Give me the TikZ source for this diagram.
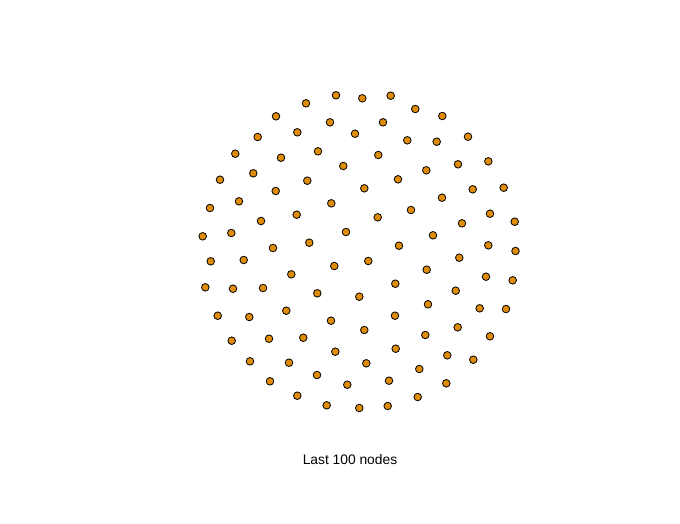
\documentclass[tikz,border=0pt]{standalone}
\usepackage{fontspec}
\setmainfont{Liberation Sans}
\usepackage{xcolor}
\usepackage{tikz}
\definecolor{naranja}{RGB}{224,140,8}
\tikzset{
  nodo/.style={circle,fill=naranja,draw=black,line width=0.8pt,minimum size=7.6pt,inner sep=0pt},
  rotulo/.style={font=\fontsize{13.8}{16}\selectfont,text=black}
}

\begin{document}
\begin{tikzpicture}[x=1pt,y=-1pt]
\useasboundingbox (0,0) rectangle (680,523);
\foreach \x/\y [count=\i] in {
 336/95.3, 362.3/98.3, 390.7/95.7, 306/103.3, 415.3/109, 442.3/116, 276/116.3,
 330/122.3, 383/122.3, 297.3/132.3, 355/133.7, 257.7/137, 407.3/140.3, 436.7/141.7,
 468/136.7, 235.3/153.7, 281/157.7, 318/151.3, 378.3/155, 343.3/166, 426.3/170.3,
 458/164.3, 488.3/161.3, 253.3/173.3, 220/179.7, 307.3/180.7, 398/179.3, 364.3/188.3,
 275.7/191, 472.7/189.3, 503.7/187.7, 239/201.3, 331.3/203.3, 442/197.7, 210/208,
 411/210, 296.7/214.7, 377.7/217.3, 490/213.7, 261/221, 462/223.3, 514.7/221.7,
 346/232, 231.3/233, 433/235.3, 202.7/236.3, 309.3/242.7, 273/248, 399/245.7,
 488.3/245.3, 515.5/251, 210.7/261.3, 243.7/260, 334.3/266, 368.3/261, 291.3/274.3,
 426.7/269.7, 459.3/257.7, 486/276.7, 512.7/280.3, 205.3/287.3, 233/288.7, 263/288,
 317.3/293.3, 359.3/296.7, 395.3/283.7, 455.7/290.7, 428/304.3, 479.7/308.3,
 506/309, 217.7/315.7, 249.3/317, 286.3/310.7, 331/320.7, 395/315.7, 364.3/330,
 425.3/335, 457.7/327.3, 490/336.3, 231.7/340.7, 269/338.7, 303.3/337.7,
 335.3/351.7, 395.7/348.7, 447.3/355.3, 473.3/359.7, 250/361.3, 289/362.7,
 366.3/363.3, 419.3/369, 317/375, 270/381.3, 347.3/384.7, 389/380.7, 446.3/383.3,
 297.3/395.7, 417.7/397, 326.7/405.3, 359.3/408, 387.7/406}
  \node[nodo] (n\i) at (\x,\y) {};
\node[rotulo] (titulo) at (350,459.5) {Last 100 nodes};
\end{tikzpicture}
\end{document}
